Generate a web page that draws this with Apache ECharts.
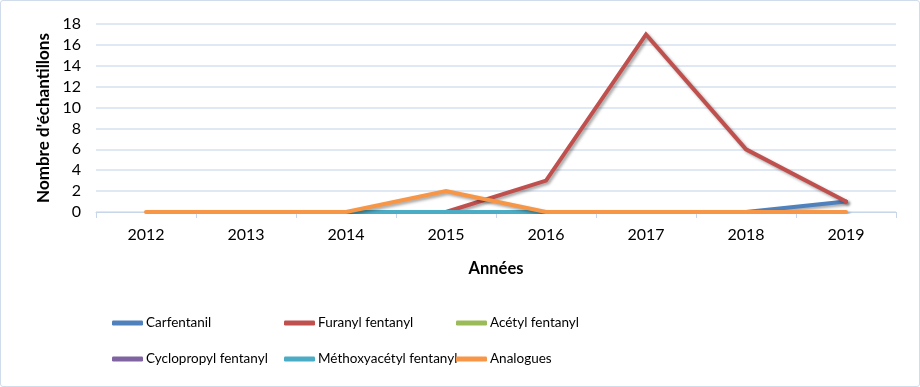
<!DOCTYPE html>
<html><head><meta charset="utf-8">
<script src="https://cdn.jsdelivr.net/npm/echarts@6/dist/echarts.min.js"></script>
<style>
html,body{margin:0;padding:0;background:#fff;}
#wrap{position:absolute;left:0;top:0;width:918px;height:385px;border:1px solid #d0dcea;border-radius:3px;}
#c{width:918px;height:385px;}
</style></head><body>
<div id="wrap"><div id="c"></div></div>
<script>
const years = ['2012','2013','2014','2015','2016','2017','2018','2019'];
const carfentanil = [null,null,null,null,null,null,0,1];
const furanyl = [null,null,null,0,3,17,6,1];
const acetyl = [null,null,null,null,null,null,null,0];
const cyclopropyl = [null,null,null,null,null,null,null,0];
const methoxyacetyl = [null,null,0,0,0,null,null,null];
const analogues = [0,0,0,2,0,0,0,0];
const yTicks = [0,2,4,6,8,10,12,14,16,18];

const names = ['Carfentanil','Furanyl fentanyl','Acétyl fentanyl','Cyclopropyl fentanyl','Méthoxyacétyl fentanyl','Analogues'];
const colors = ['#4F81BD','#C0504D','#9BBB59','#8064A2','#4BACC6','#F79646'];
const datas = [carfentanil,furanyl,acetyl,cyclopropyl,methoxyacetyl,analogues];
const font = 'Lato, "Open Sans", sans-serif';

const chart = echarts.init(document.getElementById('c'));
const legendCommon = {
  orient:'vertical', top:315, padding:0, itemWidth:31, itemHeight:5, itemGap:22, icon:'roundRect',
  textStyle:{fontFamily:font, fontSize:13.5, color:'#000', padding:[0,0,0,-2]}
};
chart.setOption({
  animation:false,
  grid:{left:95, right:23, top:23, bottom:174, containLabel:false},
  legend:[
    Object.assign({left:111, data:[names[0],names[3]]}, legendCommon),
    Object.assign({left:283, data:[names[1],names[4]]}, legendCommon),
    Object.assign({left:455, data:[names[2],names[5]]}, legendCommon)
  ],
  xAxis:{
    type:'category', data:years, boundaryGap:true,
    name:'Années', nameLocation:'middle', nameGap:48,
    nameTextStyle:{fontFamily:font, fontSize:16.5, fontWeight:'bold', color:'#000'},
    axisLine:{lineStyle:{color:'#c8d6ea', width:1}},
    axisTick:{show:true, length:6, lineStyle:{color:'#c8d6ea'}},
    axisLabel:{fontFamily:font, fontSize:16, color:'#000', margin:15}
  },
  yAxis:{
    type:'value', min:0, max:18, interval:2,
    name:"Nombre d'échantillons", nameLocation:'middle', nameGap:44,
    nameTextStyle:{fontFamily:font, fontSize:17, fontWeight:'bold', color:'#000'},
    axisLine:{show:false}, axisTick:{show:false},
    axisLabel:{fontFamily:font, fontSize:16, color:'#000', margin:15,
      formatter:v=>yTicks.includes(v)?String(v):''},
    splitLine:{lineStyle:{color:'#d6e1f0', width:1.5}}
  },
  series: names.map((n,i)=>({
    name:n, type:'line', data:datas[i], showSymbol:false, symbol:'none', connectNulls:false,
    itemStyle:{color:colors[i]},
    lineStyle:{color:colors[i], width:4, cap:'round', join:'miter', shadowColor:'rgba(0,0,0,0.35)', shadowBlur:3, shadowOffsetX:2, shadowOffsetY:2},
    z: 2+i
  }))
});
</script></body></html>
